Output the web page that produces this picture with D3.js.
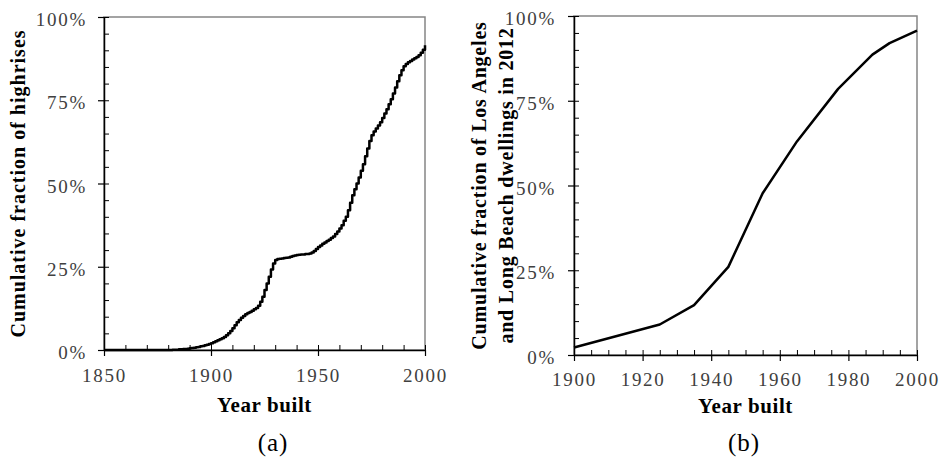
<!DOCTYPE html>
<html>
<head>
<meta charset="utf-8">
<script src="https://cdn.jsdelivr.net/npm/d3@7"></script>
<style>
body { margin: 0; background: #fff; }
text { font-family: "Liberation Serif", "Times New Roman", serif; }
</style>
</head>
<body>
<svg id="chart" width="941" height="457"></svg>
<script>
// panel (a): cumulative share of highrises by year built (%), yearly steps
var highriseYears = [1850].concat(d3.range(1880, 2001));
var highriseShare = [0,
  0.0, 0.0, 0.1, 0.1, 0.1, 0.2, 0.2, 0.3, 0.3, 0.4,
  0.5, 0.6, 0.7, 0.8, 0.9, 1.1, 1.2, 1.4, 1.6, 1.8,
  2.0, 2.3, 2.6, 2.9, 3.2, 3.5, 3.9, 4.4, 5.0, 5.7,
  6.5, 7.4, 8.3, 9.0, 9.7, 10.2, 10.7, 11.1, 11.4, 11.8,
  12.2, 12.6, 13.3, 14.5, 16.0, 18.0, 20.0, 22.0, 24.2, 26.0,
  27.0, 27.3, 27.4, 27.5, 27.6, 27.7, 27.8, 28.0, 28.2, 28.4,
  28.5, 28.6, 28.7, 28.7, 28.8, 28.8, 29.0, 29.3, 29.7, 30.3,
  30.9, 31.4, 31.9, 32.3, 32.7, 33.1, 33.6, 34.1, 34.8, 35.6,
  36.5, 37.5, 38.8, 40.0, 42.0, 44.2, 46.5, 48.3, 50.0, 51.8,
  53.8, 55.8, 58.2, 60.5, 62.8, 64.5, 65.6, 66.5, 67.4, 68.4,
  69.7, 71.0, 72.3, 73.8, 75.3, 77.0, 78.8, 80.7, 82.5, 84.0,
  85.2, 85.9, 86.4, 86.8, 87.2, 87.6, 88.0, 88.5, 89.3, 90.2,
  91.5];
var highriseXTicks = [1850, 1900, 1950, 2000];

// panel (b): cumulative share of LA / Long Beach dwellings (%)
var dwellYears = [1900, 1925, 1935, 1945, 1955, 1965, 1977, 1987, 1992, 2000];
var dwellShare = [2.2, 9.0, 14.7, 26.0, 47.7, 63.0, 78.5, 88.6, 92.0, 95.7];
var dwellXTicks = [1900, 1920, 1940, 1960, 1980, 2000];

var yTicks = [0, 25, 50, 75, 100];

var svg = d3.select("#chart");
svg.append("rect").attr("width", 941).attr("height", 457).attr("fill", "#fff");

function drawPanel(cfg) {
  var x = d3.scaleLinear().domain(cfg.xDomain).range([cfg.left, cfg.right]);
  var y = d3.scaleLinear().domain([0, 100]).range([cfg.bottom, cfg.top]);
  var g = svg.append("g");

  // plot area border (grey)
  g.append("rect")
    .attr("x", cfg.left).attr("y", cfg.top)
    .attr("width", cfg.right - cfg.left).attr("height", cfg.bottom - cfg.top)
    .attr("fill", "none").attr("stroke", "#858585").attr("stroke-width", 1.5);

  // minor ticks, pointing inside
  g.append("g").attr("transform", "translate(0," + cfg.bottom + ")")
    .call(d3.axisBottom(x).tickValues(d3.range(cfg.xDomain[0], cfg.xDomain[1] + 1, cfg.xMinor))
      .tickSizeInner(-5).tickSizeOuter(0).tickFormat(""))
    .call(function(a) { a.select(".domain").remove(); });
  g.append("g").attr("transform", "translate(" + cfg.left + ",0)")
    .call(d3.axisLeft(y).tickValues(d3.range(0, 101, 5))
      .tickSizeInner(-5).tickSizeOuter(0).tickFormat(""))
    .call(function(a) { a.select(".domain").remove(); });

  // major ticks, pointing outside, with labels
  var xa = g.append("g").attr("transform", "translate(0," + cfg.bottom + ")")
    .call(d3.axisBottom(x).tickValues(cfg.xTicks).tickSizeInner(6).tickSizeOuter(0)
      .tickPadding(cfg.xPad).tickFormat(d3.format("d")));
  var ya = g.append("g").attr("transform", "translate(" + cfg.left + ",0)")
    .call(d3.axisLeft(y).tickValues(yTicks).tickSizeInner(6).tickSizeOuter(0)
      .tickPadding(cfg.yPad).tickFormat(function(d) { return d + "%"; }));

  [xa, ya].forEach(function(a) {
    a.select(".domain").attr("stroke", "#000").attr("stroke-width", 1.5);
    a.selectAll(".tick line").attr("stroke", "#000").attr("stroke-width", 1.2);
    a.selectAll(".tick text")
      .attr("font-family", "Liberation Serif, serif")
      .attr("font-size", 19)
      .attr("letter-spacing", "1.7px")
      .attr("fill", "#404040");
  });
  ya.selectAll(".tick text").attr("dy", "0.45em");
  g.selectAll(".tick line").attr("stroke", "#000");

  // the curve
  var line = d3.line()
    .x(function(d) { return x(d[0]); })
    .y(function(d) { return y(d[1]); })
    .curve(cfg.curve);
  g.append("path")
    .datum(d3.zip(cfg.years, cfg.values))
    .attr("d", line)
    .attr("fill", "none")
    .attr("stroke", "#000")
    .attr("stroke-width", 2.5)
    .attr("stroke-linejoin", "round");

  // axis titles
  g.append("text")
    .attr("x", (cfg.left + cfg.right) / 2).attr("y", cfg.xTitleY)
    .attr("text-anchor", "middle")
    .attr("font-size", 21).attr("font-weight", "bold")
    .attr("letter-spacing", "0.6px")
    .text("Year built");

  cfg.yTitle.forEach(function(t, i) {
    g.append("text")
      .attr("transform", "translate(" + cfg.yTitleX[i] + "," + (cfg.top + cfg.bottom) / 2 + ") rotate(-90)")
      .attr("text-anchor", "middle")
      .attr("font-size", 20).attr("font-weight", "bold")
      .attr("letter-spacing", cfg.yTitleSpacing)
      .text(t);
  });

  g.append("text")
    .attr("x", cfg.capX).attr("y", 451)
    .attr("text-anchor", "middle")
    .attr("font-size", 25)
    .attr("letter-spacing", "1px")
    .text(cfg.caption);
}

drawPanel({
  left: 104, right: 425, top: 17, bottom: 350,
  xDomain: [1850, 2000], xTicks: highriseXTicks, xMinor: 10,
  years: highriseYears, values: highriseShare, curve: d3.curveStepAfter,
  xPad: 13, yPad: 11, xTitleY: 412,
  yTitle: ["Cumulative fraction of highrises"], yTitleX: [25], yTitleSpacing: "1px",
  caption: "(a)", capX: 273
});

drawPanel({
  left: 574, right: 917, top: 16, bottom: 355,
  xDomain: [1900, 2000], xTicks: dwellXTicks, xMinor: 5,
  years: dwellYears, values: dwellShare, curve: d3.curveLinear,
  xPad: 12, yPad: 12, xTitleY: 413,
  yTitle: ["Cumulative fraction of Los Angeles", "and Long Beach dwellings in 2012"],
  yTitleX: [486, 513], yTitleSpacing: "0.8px",
  caption: "(b)", capX: 744
});
</script>
</body>
</html>
